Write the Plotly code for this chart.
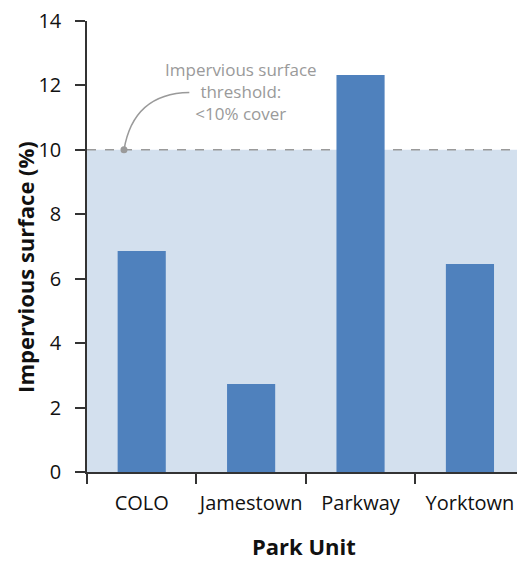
import plotly.graph_objects as go

# Impervious surface cover by park unit
park_units = ["COLO", "Jamestown", "Parkway", "Yorktown"]
impervious_pct = [6.86, 2.73, 12.32, 6.46]
threshold_pct = 10
y_ticks = [0, 2, 4, 6, 8, 10, 12, 14]
threshold_label = ["Impervious surface", "threshold:", "&lt;10% cover"]

FONT = "Open Sans"
BAR_BLUE = "#4F81BD"
SHADE = "#D3E0EE"
GREY = "#9A9A9A"
INK = "#111111"

fig = go.Figure()

fig.add_trace(go.Bar(
    x=park_units,
    y=impervious_pct,
    marker=dict(color=BAR_BLUE, line=dict(width=0)),
    width=0.44,
    hoverinfo="x+y",
))

# Shaded band below the threshold and dashed threshold line
fig.add_shape(type="rect", xref="paper", yref="y", x0=0, x1=1,
              y0=0, y1=threshold_pct, fillcolor=SHADE, line=dict(width=0),
              layer="below")
fig.add_shape(type="line", xref="paper", yref="y", x0=0, x1=1,
              y0=threshold_pct, y1=threshold_pct,
              line=dict(color=GREY, width=1.5, dash="dash"), layer="below")

# Curved leader from the threshold line to its label
dot_x = 0.086
fig.add_shape(type="path", xref="paper", yref="y",
              path=f"M {dot_x},{threshold_pct} Q 0.108,11.75 0.238,11.78",
              line=dict(color=GREY, width=1.5))
fig.add_shape(type="circle", xref="paper", yref="y",
              xsizemode="pixel", ysizemode="pixel",
              xanchor=dot_x, yanchor=threshold_pct,
              x0=-3.5, x1=3.5, y0=-3.5, y1=3.5,
              fillcolor=GREY, line=dict(width=0))

fig.add_annotation(
    xref="paper", yref="y", x=0.358, y=11.8,
    text="<br>".join(threshold_label),
    showarrow=False, align="center", xanchor="center", yanchor="middle",
    font=dict(family=FONT, size=17, color=GREY),
)

# Axis titles
fig.add_annotation(
    xref="paper", yref="paper", x=-0.144, y=0.455,
    text="<b>Impervious surface (%)</b>", textangle=-90,
    showarrow=False, xanchor="center", yanchor="middle",
    font=dict(family=FONT, size=22, color=INK),
)
fig.add_annotation(
    xref="paper", yref="paper", x=0.505, y=-0.165,
    text="<b>Park Unit</b>",
    showarrow=False, xanchor="center", yanchor="middle",
    font=dict(family=FONT, size=22, color=INK),
)

fig.update_xaxes(
    type="category",
    range=[-0.5, 3.43],
    showline=True, linecolor="#333333", linewidth=1.5,
    ticks="outside", ticklen=10, tickwidth=1.5, tickcolor="#333333",
    tickson="boundaries",
    tickangle=0,
    ticklabelstandoff=12,
    automargin=False,
    showgrid=False, zeroline=False,
    tickfont=dict(family=FONT, size=20, color=INK),
)
fig.update_yaxes(
    range=[0, 14],
    tickvals=y_ticks,
    showline=True, linecolor="#333333", linewidth=1.5,
    ticks="outside", ticklen=10, tickwidth=1.5, tickcolor="#333333",
    ticklabelstandoff=10,
    automargin=False,
    showgrid=False, zeroline=False,
    tickfont=dict(family=FONT, size=20, color=INK),
)

fig.update_layout(
    width=517, height=561,
    margin=dict(l=87, r=0, t=21, b=89),
    plot_bgcolor="white", paper_bgcolor="white",
    showlegend=False,
    bargap=0.56,
)

fig.write_html("out.html")
